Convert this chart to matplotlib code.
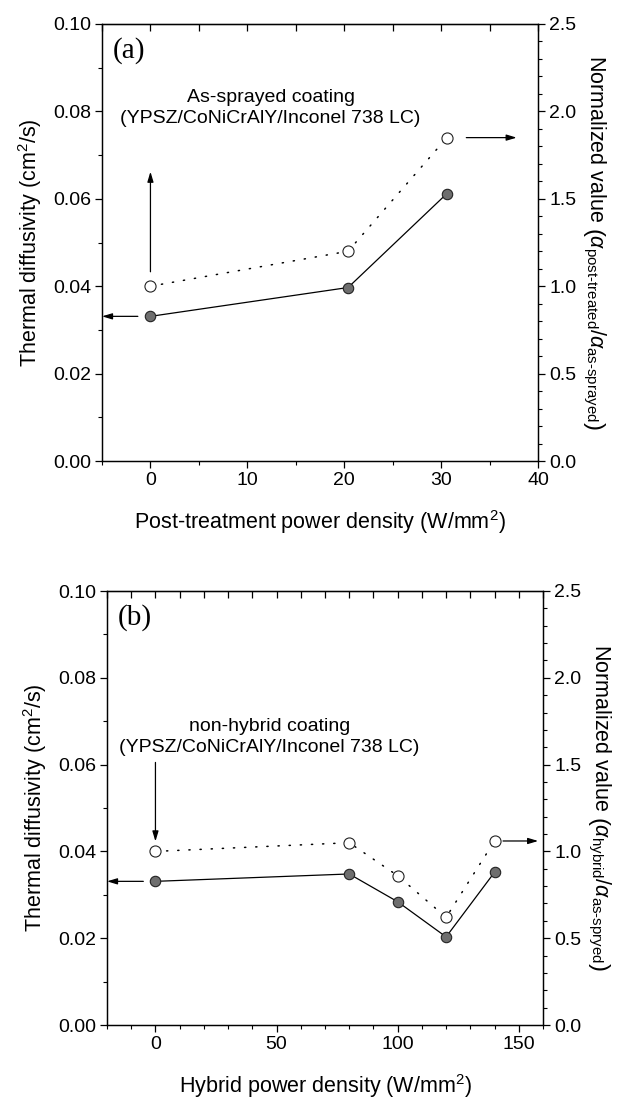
import matplotlib

matplotlib.use("Agg")
import matplotlib.pyplot as plt  # noqa: E402
from matplotlib.ticker import MultipleLocator  # noqa: E402

plt.rcParams["font.family"] = ["Liberation Sans", "DejaVu Sans"]
plt.rcParams["mathtext.fontset"] = "custom"
plt.rcParams["mathtext.rm"] = "Liberation Sans"
plt.rcParams["mathtext.it"] = "Liberation Sans:italic"
plt.rcParams["mathtext.bf"] = "Liberation Sans:bold"

# (a) post-treatment
post_power = [0, 20.4, 30.6]
post_diff = [0.0331, 0.0397, 0.0612]
post_norm = [1.0, 1.20, 1.85]

# (b) hybrid
hyb_power = [0, 80, 100, 120, 140]
hyb_diff = [0.0331, 0.0348, 0.0284, 0.0203, 0.0352]
hyb_norm = [1.0, 1.05, 0.86, 0.62, 1.06]

TICK_FS = 14
LABEL_FS = 15.5
NOTE_FS = 14


def arrow(ax, start, end):
    ax.annotate("", xy=end, xytext=start, annotation_clip=False,
                arrowprops=dict(arrowstyle="-|>,head_length=0.6,head_width=0.18",
                                color="black", lw=0.9, shrinkA=0, shrinkB=0))


def panel(ax, x, diff, norm, xlim, xmaj, xmin, xlabel, rlabel, letter):
    tw = ax.twinx()
    ax.plot(x, diff, "-", color="black", lw=0.9, marker="o", ms=7.5,
            mfc="#6e6e6e", mec="#222222", mew=0.8, zorder=3)
    tw.plot(x, norm, color="black", lw=1.1, ls=(0, (0.8, 6.5)),
            dash_capstyle="round", marker="o", ms=8, mfc="white",
            mec="#222222", mew=0.8, zorder=3)

    ax.set_xlim(*xlim)
    ax.set_ylim(0, 0.10)
    tw.set_ylim(0, 2.5)
    ax.xaxis.set_major_locator(MultipleLocator(xmaj))
    ax.xaxis.set_minor_locator(MultipleLocator(xmin))
    ax.yaxis.set_major_locator(MultipleLocator(0.02))
    ax.yaxis.set_minor_locator(MultipleLocator(0.01))
    tw.yaxis.set_major_locator(MultipleLocator(0.5))
    tw.yaxis.set_minor_locator(MultipleLocator(0.1))
    ax.yaxis.set_major_formatter(lambda v, p: f"{v:.2f}")
    tw.yaxis.set_major_formatter(lambda v, p: f"{v:.1f}")

    for a in (ax, tw):
        a.tick_params(which="major", direction="out", length=5, width=0.9,
                      labelsize=TICK_FS, pad=3)
        a.tick_params(which="minor", direction="out", length=3, width=0.8)
        for s in a.spines.values():
            s.set_linewidth(0.9)

    top = ax.secondary_xaxis("top")
    top.xaxis.set_major_locator(MultipleLocator(xmin))
    top.tick_params(direction="in", length=5, width=0.9, labeltop=False)

    ax.set_xlabel(xlabel, fontsize=LABEL_FS, labelpad=14)
    ax.set_ylabel(r"Thermal diffusivity (cm$^2$/s)", fontsize=LABEL_FS,
                  labelpad=6)
    tw.set_ylabel(rlabel, fontsize=LABEL_FS, rotation=270, labelpad=22)

    ax.text(0.025, 0.97, letter, transform=ax.transAxes, fontsize=21,
            family=["Liberation Serif", "DejaVu Serif"], va="top", ha="left")
    return tw


fig = plt.figure(figsize=(6.18, 11), dpi=100)
ax1 = fig.add_axes([102 / 618, 1 - 461 / 1100, 436 / 618, 437 / 1100])
ax2 = fig.add_axes([107 / 618, 1 - 1025 / 1100, 436 / 618, 434 / 1100])

panel(ax1, post_power, post_diff, post_norm, (-5, 40), 10, 5,
      r"Post-treatment power density (W/mm$^2$)",
      r"Normalized value $\left(\alpha_{\text{post-treated}}/\alpha_{\text{as-sprayed}}\right)$",
      "(a)")
panel(ax2, hyb_power, hyb_diff, hyb_norm, (-20, 160), 50, 10,
      r"Hybrid power density (W/mm$^2$)",
      r"Normalized value $\left(\alpha_{\text{hybrid}}/\alpha_{\text{as-spryed}}\right)$",
      "(b)")

# annotations, panel (a)
ax1.text(12.4, 0.0808, "As-sprayed coating\n(YPSZ/CoNiCrAlY/Inconel 738 LC)",
         ha="center", va="center", fontsize=NOTE_FS, linespacing=1.3)
arrow(ax1, (0, 0.0433), (0, 0.0662))
arrow(ax1, (-1.3, post_diff[0]), (-5, post_diff[0]))
arrow(ax1, (32.6, post_norm[2] * 0.04), (37.8, post_norm[2] * 0.04))

# annotations, panel (b)
ax2.text(47, 0.0664, "non-hybrid coating\n(YPSZ/CoNiCrAlY/Inconel 738 LC)",
         ha="center", va="center", fontsize=NOTE_FS, linespacing=1.3)
arrow(ax2, (0, 0.0605), (0, 0.0423))
arrow(ax2, (-5, hyb_diff[0]), (-20, hyb_diff[0]))
arrow(ax2, (143.5, hyb_norm[4] * 0.04), (158, hyb_norm[4] * 0.04))

fig.savefig("out.png", dpi=100)
